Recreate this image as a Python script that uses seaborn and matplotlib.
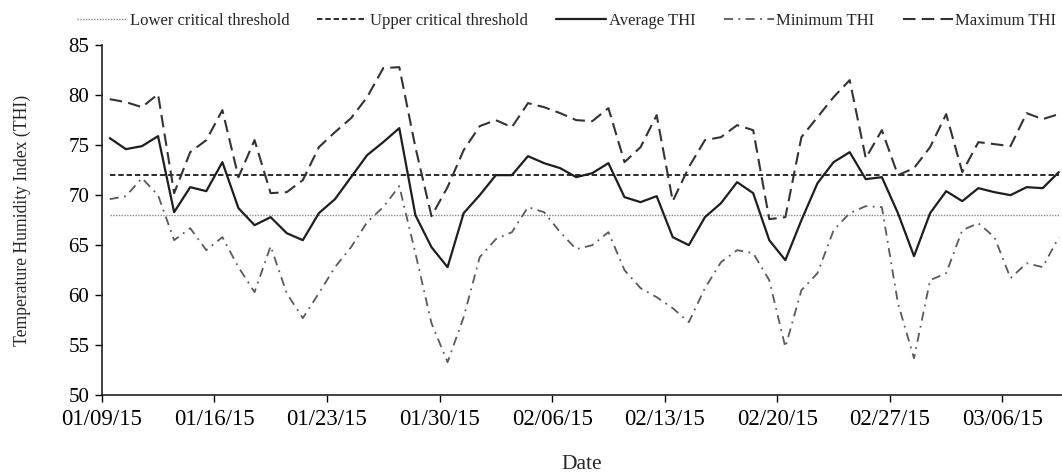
import matplotlib
matplotlib.use("Agg")
import matplotlib.pyplot as plt
import seaborn as sns
import pandas as pd
import numpy as np

# ---- data (one value per day, 01/09/15 .. 03/09/15) ----
average_thi = [75.7, 74.6, 74.9, 75.9, 68.3, 70.8, 70.4, 73.3, 68.7, 67.0,
               67.8, 66.2, 65.5, 68.2, 69.6, 71.8, 74.0, 75.3, 76.7, 68.0,
               64.8, 62.8, 68.2, 70.0, 72.0, 72.0, 73.9, 73.2, 72.7, 71.8,
               72.2, 73.2, 69.8, 69.3, 69.9, 65.8, 65.0, 67.8, 69.2, 71.3,
               70.2, 65.5, 63.5, 67.5, 71.2, 73.3, 74.3, 71.6, 71.8, 68.2,
               63.9, 68.2, 70.4, 69.4, 70.7, 70.3, 70.0, 70.8, 70.7, 72.3]
minimum_thi = [69.6, 69.9, 71.7, 70.0, 65.5, 66.7, 64.5, 65.8, 62.8, 60.3,
               64.9, 60.2, 57.7, 60.2, 62.8, 64.8, 67.3, 68.8, 70.9, 64.2,
               57.2, 53.3, 57.8, 63.8, 65.6, 66.3, 68.8, 68.3, 66.3, 64.6,
               65.0, 66.3, 62.5, 60.7, 59.8, 58.7, 57.3, 60.7, 63.3, 64.5,
               64.2, 61.5, 54.8, 60.5, 62.2, 66.5, 68.2, 68.9, 68.8, 59.2,
               53.7, 61.5, 62.2, 66.5, 67.2, 65.8, 61.7, 63.2, 62.8, 65.8]
maximum_thi = [79.6, 79.3, 78.8, 80.1, 70.2, 74.3, 75.5, 78.5, 71.8, 75.5,
               70.2, 70.3, 71.5, 74.8, 76.3, 77.7, 79.8, 82.7, 82.8, 74.8,
               67.9, 70.8, 74.5, 76.9, 77.5, 76.8, 79.2, 78.8, 78.2, 77.5,
               77.4, 78.7, 73.3, 74.8, 78.0, 69.4, 72.8, 75.5, 75.8, 77.0,
               76.5, 67.6, 67.8, 75.8, 77.8, 79.8, 81.5, 73.7, 76.5, 72.0,
               72.7, 74.8, 78.1, 72.3, 75.3, 75.1, 74.9, 78.2, 77.6, 78.1]
lower_threshold = 68
upper_threshold = 72
tick_labels = ["01/09/15", "01/16/15", "01/23/15", "01/30/15", "02/06/15",
               "02/13/15", "02/20/15", "02/27/15", "03/06/15"]
y_ticks = [50, 55, 60, 65, 70, 75, 80, 85]

n = len(average_thi)
df = pd.DataFrame({
    "day": np.arange(n),
    "Lower critical threshold": [lower_threshold] * n,
    "Upper critical threshold": [upper_threshold] * n,
    "Average THI": average_thi,
    "Minimum THI": minimum_thi,
    "Maximum THI": maximum_thi,
})

sns.set_theme(style="white")
plt.rcParams["font.family"] = ["Liberation Serif", "DejaVu Serif"]

fig = plt.figure(figsize=(10.62, 4.75), dpi=100)
ax = fig.add_axes([0.0958, 0.168, 0.9042, 0.737])

styles = {
    "Lower critical threshold": dict(color="#8a8a8a", lw=1.0, dashes=(1, 1)),
    "Upper critical threshold": dict(color="#1a1a1a", lw=1.3, dashes=(3, 1.6)),
    "Average THI": dict(color="#1e1e1e", lw=1.6, dashes=None),
    "Minimum THI": dict(color="#5a5a5a", lw=1.3, dashes=(5, 3, 1, 3)),
    "Maximum THI": dict(color="#333333", lw=1.5, dashes=(6, 3)),
}
for name, st in styles.items():
    sns.lineplot(data=df, x="day", y=name, ax=ax, color=st["color"],
                 linewidth=st["lw"], label=name, legend=False)
    line = ax.lines[-1]
    if st["dashes"] is not None:
        line.set_dashes(st["dashes"])

ax.set_xlim(-0.5, 59.2)
ax.set_ylim(50, 85)
ax.set_yticks(y_ticks)
ax.set_yticklabels([str(v) for v in y_ticks])
ax.set_xticks([-0.5 + 7 * k for k in range(len(tick_labels))])
ax.set_xticklabels(tick_labels)
ax.tick_params(axis="both", colors="black", direction="out",
               length=5, width=1.0, left=True, bottom=True)
ax.tick_params(axis="x", labelsize=16.5, pad=5)
ax.tick_params(axis="y", labelsize=15, pad=4)

for s in ["top", "right"]:
    ax.spines[s].set_visible(False)
for s in ["left", "bottom"]:
    ax.spines[s].set_color("#222222")
    ax.spines[s].set_linewidth(1.2)

ax.set_xlabel("Date", fontsize=15.5)
ax.xaxis.set_label_coords(0.5, -0.172)
ax.set_ylabel("Temperature Humidity Index (THI)", fontsize=12.7)
ax.yaxis.set_label_coords(-0.074, 0.5)

handles, labels = ax.get_legend_handles_labels()
fig.legend(handles, labels, loc="upper center", bbox_to_anchor=(0.5335, 1.005),
           ncol=5, frameon=False, fontsize=12, handlelength=3.0,
           handletextpad=0.15, columnspacing=1.7)

fig.savefig("out.png", dpi=100)
